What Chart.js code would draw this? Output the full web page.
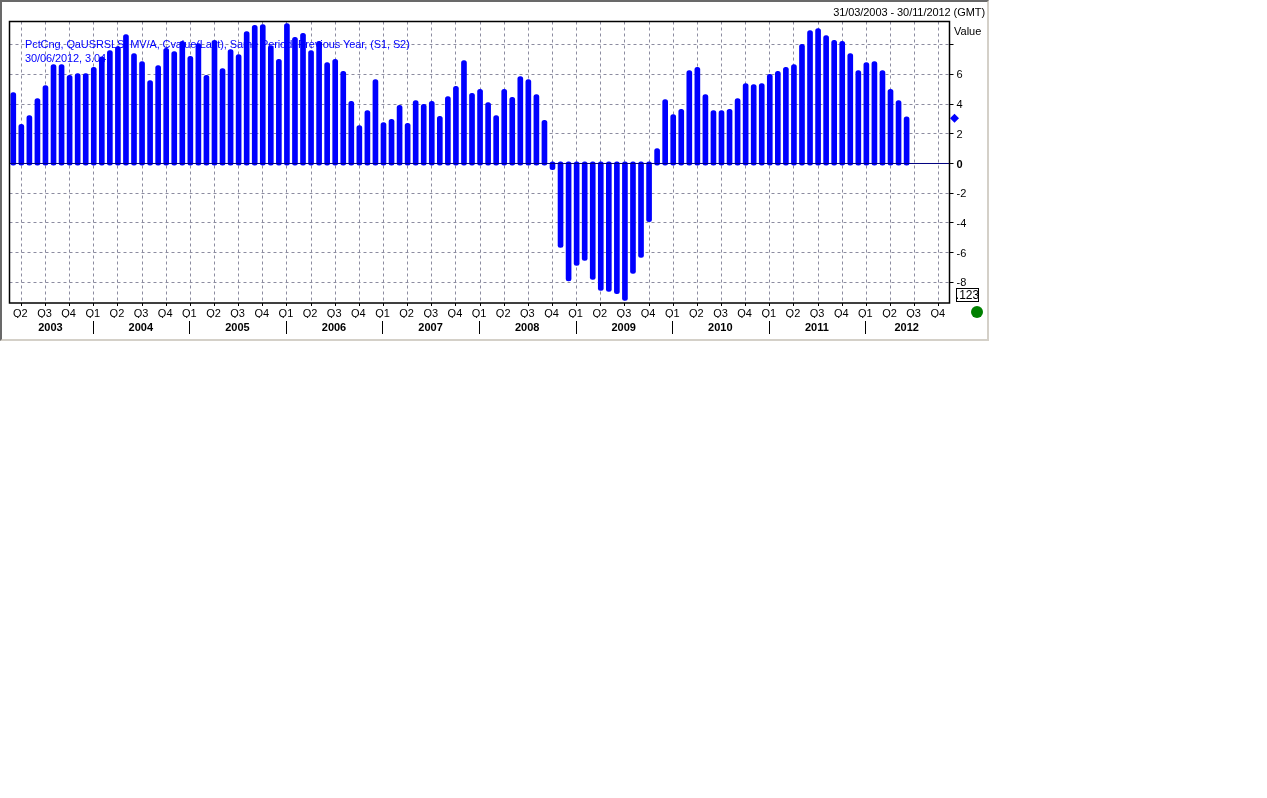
<!DOCTYPE html>
<html>
<head>
<meta charset="utf-8">
<style>
html,body{margin:0;padding:0;background:#fff;overflow:hidden}
#frame{position:absolute;left:0;top:0;width:985px;height:337px;border-style:solid;border-width:2px;border-color:#696969 #d4d0c8 #d4d0c8 #696969}
#c{position:absolute;left:0;top:0}
</style>
<script src="https://cdn.jsdelivr.net/npm/chart.js@4/dist/chart.umd.min.js"></script>
</head>
<body>
<div id="frame"></div>
<canvas id="c" width="1267" height="798"></canvas>
<script>
// Monthly values, March 2003 to June 2012
const values = [
  4.67,2.52,3.12,4.27,5.14,6.56,6.56,5.82,5.95,5.95,6.36,7.07,7.50,7.77,8.58,7.30,
  6.76,5.48,6.49,7.64,7.43,8.11,7.10,7.97,5.82,8.18,6.29,7.57,7.23,8.78,9.19,9.25,
  7.84,6.90,9.32,8.38,8.65,7.50,8.11,6.69,6.90,6.09,4.07,2.45,3.46,5.55,2.65,2.86,
  3.80,2.59,4.13,3.87,4.07,3.06,4.40,5.08,6.83,4.61,4.88,4.00,3.12,4.88,4.34,5.75,
  5.55,4.54,2.79,-0.30,-5.55,-7.80,-6.76,-6.42,-7.70,-8.44,-8.51,-8.65,-9.12,-7.30,
  -6.22,-3.80,0.90,4.20,3.19,3.53,6.15,6.36,4.54,3.46,3.46,3.53,4.27,5.28,5.21,5.28,
  5.89,6.09,6.36,6.56,7.91,8.85,8.98,8.51,8.18,8.11,7.30,6.15,6.69,6.76,6.15,4.88,
  4.13,3.04
];
const quarterLabels = ['Q2','Q3','Q4','Q1'];
const years = ['2003','2004','2005','2006','2007','2008','2009','2010','2011','2012'];
const yTickValues = [-8,-6,-4,-2,0,2,4,6,8];
const yTickLabels = ['-8','-6','-4','-2','0','2','4','6',''];
const legendLines = ['PctCng, QaUSRSLS, MV/A, Cvalue(Last), Same Period, Previous Year, (S1, S2)','30/06/2012, 3.04'];
const dateRange = '31/03/2003 - 30/11/2012 (GMT)';

const xMin = -0.47, xMax = 116.33;
const capPad = 0.11;
const firstQuarter = 1, lastQuarter = 115;
const quarterTicks = [];
for (let i = firstQuarter; i <= lastQuarter; i += 3) quarterTicks.push(i);
const yearStarts = years.map((_, i) => i === 0 ? xMin : 10 + (i - 1) * 12);
const yearCentres = years.map((_, i) => (yearStarts[i] + (i + 1 < years.length ? yearStarts[i + 1] : xMax)) / 2 - 0.15);

const C_W = 1267, C_H = 798;
const A = {l: 9.5, t: 21.5, r: 949.5, b: 303};
const SANS = '"Liberation Sans", Arial, sans-serif';

const overlay = {
  id: 'overlay',
  beforeDatasetsDraw(chart) {
    const g = chart.ctx;
    g.save();
    g.font = '11px ' + SANS;
    g.fillStyle = '#0000ff';
    g.textAlign = 'left';
    g.textBaseline = 'alphabetic';
    g.letterSpacing = '-0.1px';
    g.fillText(legendLines[0], 25, 48);
    g.fillText(legendLines[1], 25, 62);
    g.restore();
  },
  afterDraw(chart) {
    const g = chart.ctx, x = chart.scales.x, y = chart.scales.y;
    g.save();
    g.strokeStyle = '#000';
    g.lineWidth = 1.5;
    g.strokeRect(A.l, A.t, A.r - A.l, A.b - A.t);
    // year separators
    g.lineWidth = 1;
    yearStarts.slice(1).forEach(v => {
      const px = Math.round(x.getPixelForValue(v)) - 0.5;
      g.beginPath(); g.moveTo(px, 321); g.lineTo(px, 334); g.stroke();
    });
    // latest-value marker on the value axis
    const my = y.getPixelForValue(values[values.length - 1]);
    g.fillStyle = '#0000ff';
    g.beginPath();
    g.moveTo(954.5, my - 4.5); g.lineTo(959, my); g.lineTo(954.5, my + 4.5); g.lineTo(950, my);
    g.closePath(); g.fill();
    g.fillStyle = '#000';
    g.font = '11px ' + SANS;
    g.textBaseline = 'alphabetic';
    g.textAlign = 'right';
    g.letterSpacing = '-0.07px';
    g.fillText(dateRange, 985, 16);
    g.letterSpacing = '0px';
    g.textAlign = 'left';
    g.fillText('Value', 954, 35);
    g.lineWidth = 1;
    g.strokeRect(956.5, 288.5, 22, 13);
    g.font = '12px ' + SANS;
    g.textAlign = 'center';
    g.fillText('.123', 967.5, 299);
    g.fillStyle = '#008000';
    g.beginPath(); g.arc(977, 312, 6, 0, Math.PI * 2); g.fill();
    g.restore();
  }
};

new Chart(document.getElementById('c'), {
  type: 'bar',
  plugins: [overlay],
  data: {
    datasets: [
      {
        type: 'line', order: 0,
        data: [{x: xMin, y: 0}, {x: xMax, y: 0}],
        borderColor: '#000080', borderWidth: 1, pointRadius: 0
      },
      {
        order: 1,
        data: values.map((v, i) => ({x: i, y: v < 0 ? [capPad, v - capPad] : [-capPad, v + capPad]})),
        backgroundColor: '#0000ff',
        barThickness: 5,
        borderRadius: 2.5,
        borderSkipped: false
      }
    ]
  },
  options: {
    responsive: false,
    animation: false,
    devicePixelRatio: 1,
    layout: {padding: {left: A.l, top: A.t, right: 0, bottom: 0}},
    plugins: {legend: {display: false}, tooltip: {enabled: false}},
    scales: {
      x: {
        type: 'linear', min: xMin, max: xMax, position: 'bottom', offset: false,
        afterBuildTicks: s => { s.ticks = quarterTicks.map(v => ({value: v})); },
        afterFit: s => { s.height = 15; },
        grid: {offset: false, color: '#8c8ca0', lineWidth: 1, drawTicks: true, tickLength: 3, tickColor: '#000'},
        border: {dash: [3, 3], display: false},
        ticks: {
          autoSkip: false, maxRotation: 0, minRotation: 0, padding: 1, labelOffset: -1,
          color: '#000', font: {family: SANS, size: 11},
          callback: v => quarterLabels[Math.round((v - firstQuarter) / 3) % 4]
        }
      },
      xYears: {
        type: 'linear', min: xMin, max: xMax, position: 'bottom', offset: false,
        afterBuildTicks: s => { s.ticks = yearCentres.map(v => ({value: v})); },
        afterFit: s => { s.height = C_H - A.b - 15; },
        grid: {display: false, drawTicks: false, tickLength: 0},
        border: {display: false},
        ticks: {
          autoSkip: false, maxRotation: 0, minRotation: 0, padding: 3,
          color: '#000', font: {family: SANS, size: 11, weight: 'bold'},
          callback: (v, i) => years[i]
        }
      },
      y: {
        type: 'linear', min: -9.396, max: 9.564, position: 'right',
        afterBuildTicks: s => { s.ticks = yTickValues.map(v => ({value: v})); },
        afterFit: s => { s.width = C_W - A.r; },
        grid: {color: '#8c8ca0', lineWidth: 1, tickLength: 4, tickColor: '#000'},
        border: {dash: [3, 3], display: false},
        ticks: {
          autoSkip: false, padding: 3, color: '#000', labelOffset: 1,
          font: c => ({family: SANS, size: 11, weight: c.tick && c.tick.value === 0 ? 'bold' : 'normal'}),
          callback: (v, i) => yTickLabels[i]
        }
      }
    }
  }
});
</script>
</body>
</html>
